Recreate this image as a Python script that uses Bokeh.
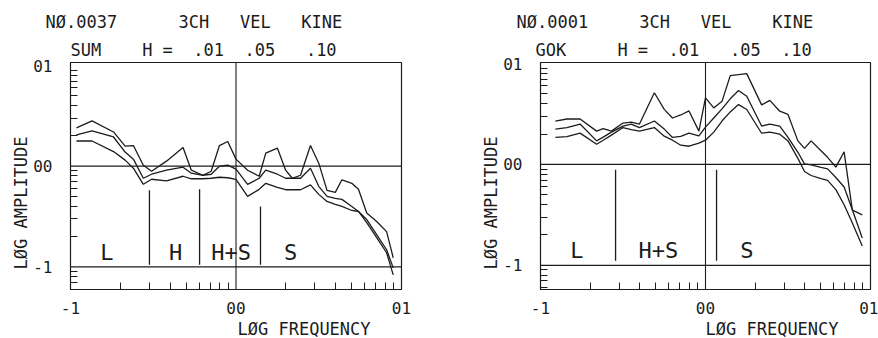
import numpy as np
from bokeh.plotting import figure
from bokeh.layouts import row
from bokeh.models import Range1d, FixedTicker, Span, Title, ColumnDataSource
from bokeh.embed import file_html
from bokeh.resources import INLINE
from bokeh.core.properties import value

NB = "\u00a0"  # non-breaking space keeps the plotter-style word spacing

# ---------------- data: left panel (NØ.0037, SUM) ----------------
left_freq = [-0.964, -0.87, -0.74, -0.67, -0.62, -0.56, -0.51, -0.42, -0.32, -0.27, -0.20,
             -0.15, -0.10, -0.05, 0.0, 0.07, 0.14, 0.18, 0.25, 0.30, 0.34, 0.39, 0.45,
             0.50, 0.55, 0.60, 0.64, 0.70, 0.74, 0.79, 0.85, 0.91, 0.95]
left_h01 = [0.38, 0.45, 0.34, 0.20, 0.205, 0.01, -0.05, 0.05, 0.185, -0.04, -0.09,
            -0.05, 0.205, 0.245, 0.07, -0.04, -0.10, 0.13, 0.18, -0.04, -0.12, -0.09, 0.205,
            0.03, -0.24, -0.26, -0.135, -0.17, -0.23, -0.465, -0.55, -0.65, -0.91]
left_h05 = [0.31, 0.35, 0.29, 0.14, 0.07, -0.12, -0.08, -0.04, -0.01, -0.07, -0.09,
            -0.08, 0.0, 0.01, -0.03, -0.18, -0.12, -0.04, -0.08, -0.12, -0.12, -0.12, -0.02,
            -0.20, -0.30, -0.32, -0.33, -0.40, -0.45, -0.53, -0.68, -0.83, -1.01]
left_h10 = [0.25, 0.25, 0.145, 0.06, -0.02, -0.18, -0.13, -0.145, -0.10, -0.125, -0.125,
            -0.12, -0.11, -0.115, -0.13, -0.30, -0.23, -0.17, -0.21, -0.234, -0.234, -0.234, -0.185,
            -0.28, -0.35, -0.38, -0.40, -0.44, -0.45, -0.56, -0.71, -0.86, -1.08]
left_div_x = [-0.523, -0.22, 0.148]
left_div_top = [-0.24, -0.23, -0.40]
left_div_bottom = [-0.98, -0.98, -0.98]
left_zone_text = ["L", "H", "H+S", "S"]
left_zone_x = [-0.78, -0.365, -0.03, 0.33]
left_title1 = ["NØ.0037", 6, "3CH", 3, "VEL", 3, "KINE"]
left_title2 = ["SUM", 4, "H =", 2, ".01", 2, ".05", 3, ".10"]

# ---------------- data: right panel (NØ.0001, GOK) ----------------
right_freq = [-0.91, -0.84, -0.76, -0.66, -0.62, -0.57, -0.50, -0.45, -0.40, -0.31, -0.25,
              -0.20, -0.15, -0.10, -0.04, 0.0, 0.05, 0.10, 0.15, 0.20, 0.25, 0.34, 0.39,
              0.45, 0.50, 0.56, 0.60, 0.64, 0.70, 0.74, 0.79, 0.84, 0.89, 0.95]
right_h01 = [0.43, 0.45, 0.45, 0.33, 0.355, 0.33, 0.41, 0.42, 0.40, 0.71, 0.545,
             0.46, 0.49, 0.53, 0.33, 0.66, 0.56, 0.625, 0.88, 0.89, 0.90, 0.59, 0.635,
             0.527, 0.495, 0.233, 0.159, 0.233, 0.135, 0.07, -0.027, 0.125, -0.453, -0.50]
right_h05 = [0.35, 0.365, 0.40, 0.233, 0.27, 0.32, 0.38, 0.40, 0.365, 0.43, 0.35,
             0.267, 0.277, 0.309, 0.282, 0.37, 0.46, 0.55, 0.65, 0.733, 0.675, 0.38, 0.40,
             0.38, 0.267, 0.12, 0.005, -0.005, -0.03, -0.044, -0.13, -0.224, -0.45, -0.73]
right_h10 = [0.267, 0.275, 0.31, 0.20, 0.24, 0.29, 0.365, 0.345, 0.33, 0.365, 0.28,
             0.24, 0.19, 0.18, 0.21, 0.24, 0.32, 0.43, 0.52, 0.593, 0.544, 0.309, 0.32,
             0.30, 0.233, 0.06, -0.07, -0.11, -0.142, -0.159, -0.25, -0.40, -0.58, -0.81]
right_div_x = [-0.545, 0.067]
right_div_top = [-0.054, -0.054]
right_div_bottom = [-0.956, -0.956]
right_zone_text = ["L", "H+S", "S"]
right_zone_x = [-0.78, -0.285, 0.25]
right_title1 = ["NØ.0001", 5, "3CH", 3, "VEL", 4, "KINE"]
right_title2 = ["GOK", 5, "H =", 2, ".01", 3, ".05", 2, ".10"]

zone_y = -0.855
tick_values = [-1, 0, 1]
tick_labels = {-1: "-1", 0: "00", 1: "01"}
x_label = "LØG FREQUENCY"
y_label = "LØG AMPLITUDE"

FONT = "DejaVu Sans Mono"
INK = "#1c1c1c"
W, H = 439, 338


def spaced(parts):
    return "".join(NB * p if isinstance(p, int) else p.replace(" ", NB) for p in parts)


def title(text, size, offset=0, standoff=0):
    return Title(text=text, text_font=FONT, text_font_size=size, text_color=INK,
                 text_font_style="normal", align="left", offset=offset, standoff=standoff,
                 text_line_height=0.85)


def make_panel(freq, curves, div_x, div_top, div_bot, zone_text, zone_x,
               left_px, right_px, y_lo, y_hi, t1, t2, t1_off, t2_off, xl_off):
    p = figure(width=W, height=H, output_backend="svg", toolbar_location=None, title=None,
               x_range=Range1d(-1, 1), y_range=Range1d(y_lo, y_hi),
               min_border_left=left_px, min_border_right=W - right_px,
               min_border_top=62, min_border_bottom=H - 292)
    p.xgrid.visible = False
    p.ygrid.visible = False
    p.outline_line_color = INK
    p.outline_line_width = 1.2

    xminor = [float(np.log10(m) + k) for k in (-1, 0) for m in range(2, 10)]
    yminor = [float(np.log10(m) + k) for k in (-2, -1, 0) for m in range(2, 10)
              if y_lo < np.log10(m) + k < y_hi]
    p.xaxis.ticker = FixedTicker(ticks=tick_values, minor_ticks=xminor)
    p.yaxis.ticker = FixedTicker(ticks=tick_values, minor_ticks=yminor)
    for ax in (p.xaxis[0], p.yaxis[0]):
        ax.major_label_overrides = tick_labels
        ax.axis_line_color = INK
        ax.major_tick_in = 0
        ax.major_tick_out = 0
        ax.minor_tick_in = 7
        ax.minor_tick_out = 0
        ax.minor_tick_line_color = INK
        ax.major_label_text_font = FONT
        ax.major_label_text_font_size = "16px"
        ax.major_label_text_color = INK
        ax.major_label_text_line_height = 0.85
    p.xaxis.major_label_standoff = 12
    p.yaxis.major_label_standoff = 18

    for yv in (0, -1):
        p.add_layout(Span(location=yv, dimension="width", line_color=INK, line_width=1.2))
    p.add_layout(Span(location=0, dimension="height", line_color=INK, line_width=1.1))

    for ys in curves:
        p.line(freq, ys, line_color=INK, line_width=1.3)

    p.segment(x0=div_x, y0=div_bot, x1=div_x, y1=div_top, line_color=INK, line_width=1.3)

    src = ColumnDataSource(dict(x=zone_x, y=[zone_y] * len(zone_x), t=zone_text))
    p.text(x="x", y="y", text="t", source=src, text_font=value(FONT), text_font_size="22px",
           text_align="center", text_baseline="middle", text_color=INK)

    p.add_layout(title(spaced(t2), "17px", offset=t2_off, standoff=5), "above")
    p.add_layout(title(spaced(t1), "17px", offset=t1_off, standoff=8), "above")
    p.add_layout(title(x_label, "17px", offset=xl_off, standoff=0), "below")
    p.add_layout(title(y_label, "17px", offset=20, standoff=0), "left")
    return p


left = make_panel(left_freq, [left_h01, left_h05, left_h10], left_div_x, left_div_top,
                  left_div_bottom, left_zone_text, left_zone_x, 70, 401, -1.225, 1.03,
                  left_title1, left_title2, -25, 0, 167)
right = make_panel(right_freq, [right_h01, right_h05, right_h10], right_div_x, right_div_top,
                   right_div_bottom, right_zone_text, right_zone_x, 101, 431, -1.24, 1.01,
                   right_title1, right_title2, -24, -5, 165)

layout = row(left, right)
open("out.html", "w").write(file_html(layout, INLINE))
